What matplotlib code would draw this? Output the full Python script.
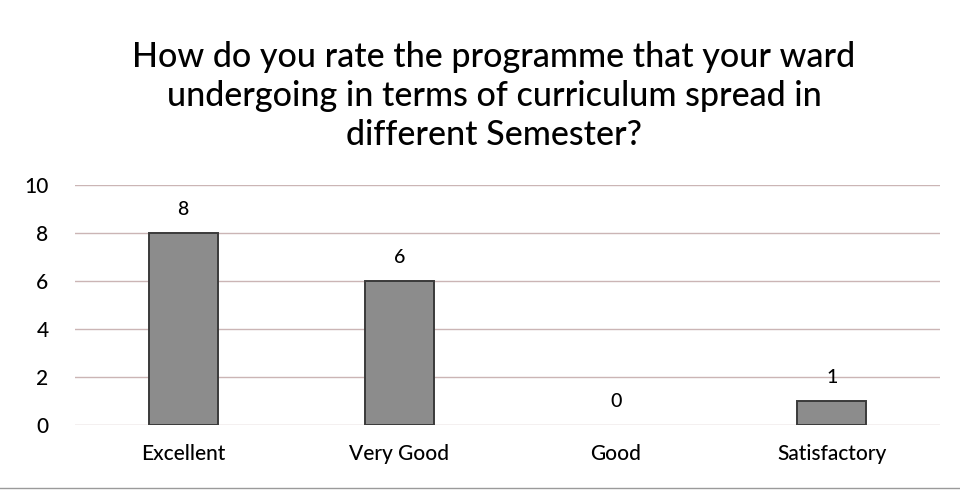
import matplotlib.pyplot as plt

# Survey responses
categories = ['Excellent', 'Very Good', 'Good', 'Satisfactory']
counts = [8, 6, 0, 1]
yticks = [0, 2, 4, 6, 8, 10]
title = ('How do you rate the programme that your ward\n'
         'undergoing in terms of curriculum spread in\n'
         'different Semester?')

plt.rcParams['font.family'] = ['Lato', 'DejaVu Sans']
plt.rcParams['font.weight'] = 'medium'

fig = plt.figure(figsize=(9.6, 4.95), dpi=100)
ax = fig.add_axes([75/960, 1 - 425/495, 865/960, 240/495])

x = range(len(categories))
bars = ax.bar(x, counts, width=0.32, color='#8c8c8c',
              edgecolor='#3a3a3a', linewidth=1.4, zorder=3)
for b, c in zip(bars, counts):
    if c == 0:
        b.set_linewidth(0)
ax.bar_label(bars, padding=11, fontsize=14)

ax.set_xlim(-0.5, len(categories) - 0.5)
ax.set_ylim(0, 10)
ax.set_yticks(yticks)
ax.set_xticks(list(x))
ax.set_xticklabels(categories)
ax.tick_params(axis='both', length=0, labelsize=15)
ax.tick_params(axis='x', pad=14)
ax.tick_params(axis='y', pad=19)
ax.grid(axis='y', color='#cbb5b5', linewidth=1, zorder=0)
for s in ax.spines.values():
    s.set_visible(False)

fig.text(494/960, 1 - 96/495, title, ha='center', va='center',
         fontsize=24.5, linespacing=1.27)

# bottom border line from the original chart frame
fig.add_artist(plt.Line2D([0, 1], [1 - 488/495] * 2, color='#9a9a9a', linewidth=1))

fig.savefig('out.png', dpi=100)
